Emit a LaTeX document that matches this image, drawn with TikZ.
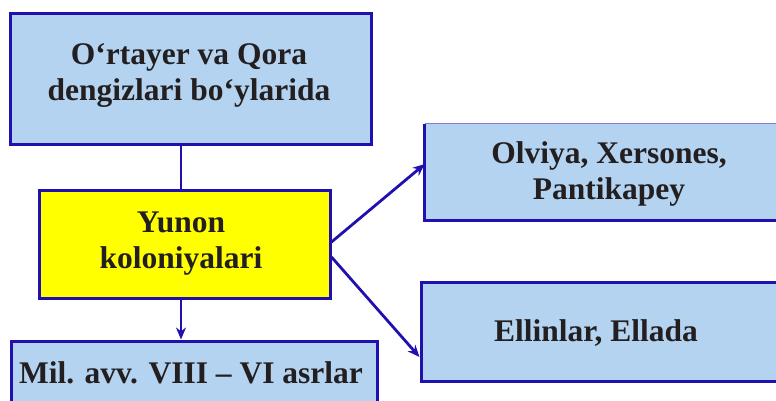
\documentclass[tikz,border=0pt]{standalone}
\usepackage{fontspec}
\setmainfont{Liberation Serif}
\usetikzlibrary{calc,arrows.meta}
\definecolor{bordblue}{RGB}{32,16,176}
\definecolor{boxblue}{RGB}{180,211,240}
\definecolor{boxyellow}{RGB}{255,255,0}
\definecolor{txt}{RGB}{35,31,32}
\tikzset{
  box/.style={rectangle, draw=bordblue, line width=3pt, inner sep=0pt},
  bluebox/.style={box, fill=boxblue},
  yellowbox/.style={box, fill=boxyellow},
  lbl/.style={text=txt, font=\fontsize{31.5}{36}\selectfont\bfseries, align=center, anchor=base, inner sep=0pt},
  conn/.style={draw=bordblue, line width=2.8pt},
  arr/.style={conn, -{Stealth[length=12pt,width=10pt]}},
}
\begin{document}
\begin{tikzpicture}[x=1pt,y=1pt]
\useasboundingbox (0,0) rectangle (776,400);
\clip (0,0) rectangle (776,400);
\node[bluebox, minimum width=361pt, minimum height=130pt] (b1) at (190.5,321) {};
\node[yellowbox, minimum width=291pt, minimum height=108pt] (b2) at (184.5,156) {};
\node[bluebox, minimum width=366pt, minimum height=79pt] (b3) at (194,19.5) {};
\node[rectangle, fill=boxblue, inner sep=0pt, minimum width=375pt, minimum height=96pt] (b4) at (612.5,228) {};
\draw[draw=bordblue!55, line width=1pt] (b4.north west) -- (b4.north east);
\draw[draw=bordblue, line width=3pt] (b4.north west) -- (b4.south west) -- (b4.south east);
\node[bluebox, minimum width=379pt, minimum height=99pt] (b5) at (610.5,68.5) {};

\node[lbl] (t1) at (189,300) {O‘rtayer va Qora\\dengizlari bo‘ylarida};
\node[lbl] (t2) at (181,132) {Yunon\\koloniyalari};
\node[lbl] (t3) at (191,17) {Mil. avv. VIII – VI asrlar};
\node[lbl] (t4) at (609,201) {Olviya, Xersones,\\Pantikapey};
\node[lbl] (t5) at (596,59) {Ellinlar, Ellada};

\draw[conn] ($(b1.south)+(-9.5,0)$) -- ($(b2.north)+(-3.5,0)$);
\draw[arr] ($(b2.south)+(-3.5,0)$) -- ($(b3.north)+(-13,0)$);
\draw[arr] ($(b2.east)+(0,2)$) -- ($(b4.west)+(0,8)$);
\draw[arr] ($(b2.east)+(0,-13)$) -- ($(b5.west)+(0,-25.5)$);
\end{tikzpicture}
\end{document}
